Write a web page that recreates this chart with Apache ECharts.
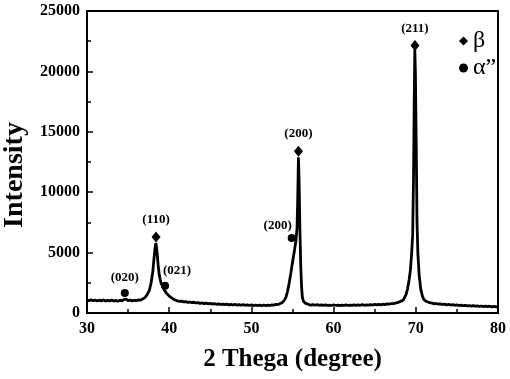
<!DOCTYPE html>
<html>
<head>
<meta charset="utf-8">
<script src="https://cdn.jsdelivr.net/npm/echarts@6/dist/echarts.min.js"></script>
<style>
html,body{margin:0;padding:0;background:#fff;}
#chart{width:510px;height:379px;}
</style>
</head>
<body>
<div id="chart"></div>
<script>
// XRD pattern: [2theta (degree), intensity]
const xrdPattern = [
  [30.0,1080],[30.25,1020],[30.5,1100],[30.75,1010],[31.0,1070],[31.25,990],[31.5,1060],[31.75,1000],
  [32.0,1090],[32.25,980],[32.5,1050],[32.75,1000],[33.0,1080],[33.25,990],[33.5,1040],[33.75,970],
  [34.0,1060],[34.25,1000],[34.5,1120],[34.75,1150],[35.0,1020],[35.25,1080],[35.5,990],[35.75,1060],
  [36.0,1010],[36.25,1090],[36.5,1060],[36.75,1150],[37.0,1250],[37.3,1500],[37.6,1900],[37.8,2500],
  [38.0,3400],[38.15,4500],[38.3,5500],[38.38,5800],[38.5,5200],[38.65,4000],[38.8,3100],[39.0,2500],
  [39.3,2050],[39.6,1700],[40.0,1400],[40.25,1280],[40.5,1150],[40.75,1080],[41.0,1000],[41.25,960],
  [41.5,990],[41.75,920],[42.0,950],[42.25,880],[42.5,910],[42.75,860],[43.0,890],[43.25,830],
  [43.5,860],[43.75,800],[44.0,840],[44.25,780],[44.5,820],[44.75,760],[45.0,800],[45.25,740],
  [45.5,780],[45.75,720],[46.0,760],[46.25,700],[46.5,740],[46.75,690],[47.0,730],[47.25,680],
  [47.5,720],[47.75,660],[48.0,710],[48.25,650],[48.5,700],[48.75,640],[49.0,690],[49.25,640],
  [49.5,680],[49.75,620],[50.0,670],[50.25,610],[50.5,660],[50.75,620],[51.0,650],[51.25,600],
  [51.5,660],[51.75,610],[52.0,650],[52.25,620],[52.5,680],[52.75,650],[53.0,720],[53.25,700],
  [53.5,790],[53.75,860],[54.0,1050],[54.2,1300],[54.4,1800],[54.6,2500],[54.8,3300],[55.0,4200],
  [55.2,5000],[55.4,5900],[55.55,7000],[55.65,10000],[55.72,12900],[55.8,11000],[55.9,7000],[56.0,4000],
  [56.1,2200],[56.2,1300],[56.35,950],[56.6,800],[56.8,760],[57.0,700],[57.25,660],[57.5,700],
  [57.75,640],[58.0,690],[58.25,640],[58.5,680],[58.75,630],[59.0,670],[59.25,620],[59.5,660],
  [59.75,620],[60.0,670],[60.25,620],[60.5,660],[60.75,610],[61.0,660],[61.25,620],[61.5,670],
  [61.75,620],[62.0,660],[62.25,630],[62.5,680],[62.75,630],[63.0,670],[63.25,640],[63.5,690],
  [63.75,640],[64.0,680],[64.25,650],[64.5,700],[64.75,660],[65.0,710],[65.25,670],[65.5,720],
  [65.75,680],[66.0,730],[66.25,700],[66.5,750],[66.75,730],[67.0,780],[67.25,770],[67.5,820],
  [67.75,860],[68.0,920],[68.25,990],[68.5,1100],[68.8,1500],[69.0,2000],[69.2,2800],[69.35,3600],
  [69.5,5000],[69.62,6500],[69.72,11000],[69.8,17000],[69.88,21800],[69.95,20000],[70.05,14000],[70.15,7500],
  [70.25,5000],[70.4,3200],[70.6,2000],[70.8,1400],[71.0,1100],[71.3,950],[71.7,850],[72.0,820],
  [72.25,760],[72.5,790],[72.75,730],[73.0,760],[73.25,700],[73.5,730],[73.75,680],[74.0,710],
  [74.25,660],[74.5,690],[74.75,640],[75.0,670],[75.25,620],[75.5,650],[75.75,600],[76.0,640],
  [76.25,590],[76.5,620],[76.75,570],[77.0,610],[77.25,560],[77.5,590],[77.75,540],[78.0,580],
  [78.25,530],[78.5,570],[78.75,520],[79.0,560],[79.25,510],[79.5,540],[79.75,500],[80.0,530]
];

// Phase peak markers
const betaPeaks = [[38.4, 6300], [55.72, 13400], [69.9, 22150]];
const betaLabels = ['(110)', '(200)', '(211)'];
const alphaPeaks = [[34.6, 1650], [39.5, 2250], [54.9, 6200]];
const alphaLabels = ['(020)', '(021)', '(200)'];

const xTicks = { min: 30, max: 80, interval: 10 };
const yTicks = { min: 0, max: 25000, interval: 5000 };

const FONT = 'Liberation Serif';
// per-label offsets (style, not data)
const alphaLabelOffsets = [[0, 0], [12, 0], [-14, 3]];

const labelStyle = {
  show: true, position: 'top', distance: 5,
  fontFamily: FONT, fontWeight: 'bold', fontSize: 13, color: '#000'
};

const chart = echarts.init(document.getElementById('chart'));
const axisCommon = {
  axisLine: { show: true, lineStyle: { color: '#000', width: 2 } },
  axisTick: { show: true, inside: true, length: 6, lineStyle: { color: '#000', width: 1.5 } },
  minorTick: { show: true, splitNumber: 2, length: 4, lineStyle: { color: '#000', width: 1.5 } },
  splitLine: { show: false },
  axisLabel: { color: '#000', fontFamily: FONT, fontWeight: 'bold', fontSize: 16, formatter: v => String(v) },
  nameTextStyle: { color: '#000', fontFamily: FONT, fontWeight: 'bold', fontSize: 24 }
};

chart.setOption({
  animation: false,
  grid: { left: 87, top: 11, width: 411, height: 302, containLabel: false, outerBoundsMode: 'none',
          show: true, borderColor: '#000', borderWidth: 2, backgroundColor: 'transparent' },
  legend: {
    orient: 'vertical', left: 454, top: 24, itemWidth: 9, itemHeight: 9, itemGap: 3,
    data: ['β', 'α”'],
    textStyle: { fontFamily: FONT, fontSize: 24, color: '#000', padding: [0, 0, 0, 0] }
  },
  xAxis: Object.assign({}, axisCommon, {
    type: 'value', min: xTicks.min, max: xTicks.max, interval: xTicks.interval,
    name: '2 Thega (degree)', nameLocation: 'middle', nameGap: 34,
    nameTextStyle: Object.assign({}, axisCommon.nameTextStyle, { fontSize: 25 }),
    axisLabel: Object.assign({}, axisCommon.axisLabel, { margin: 8 })
  }),
  yAxis: Object.assign({}, axisCommon, {
    type: 'value', min: yTicks.min, max: yTicks.max, interval: yTicks.interval,
    name: 'Intensity', nameLocation: 'middle', nameGap: 56,
    nameTextStyle: Object.assign({}, axisCommon.nameTextStyle, { fontSize: 28, padding: [0, 26, 0, 0] }),
    axisLabel: Object.assign({}, axisCommon.axisLabel, { margin: 7 })
  }),
  series: [
    {
      type: 'line', data: xrdPattern, showSymbol: false, silent: true,
      lineStyle: { color: '#000', width: 2.8 }, z: 2
    },
    {
      name: 'β', type: 'scatter', symbol: 'diamond', symbolSize: [9, 11],
      itemStyle: { color: '#000', opacity: 1 }, z: 3,
      data: betaPeaks.map((p, i) => ({ value: p, name: betaLabels[i] })),
      label: Object.assign({}, labelStyle, { formatter: p => p.name })
    },
    {
      name: 'α”', type: 'scatter', symbol: 'circle', symbolSize: 8,
      itemStyle: { color: '#000', opacity: 1 }, z: 3,
      data: alphaPeaks.map((p, i) => ({
        value: p, name: alphaLabels[i],
        label: { offset: alphaLabelOffsets[i] }
      })),
      label: Object.assign({}, labelStyle, { formatter: p => p.name })
    }
  ]
});
</script>
</body>
</html>
